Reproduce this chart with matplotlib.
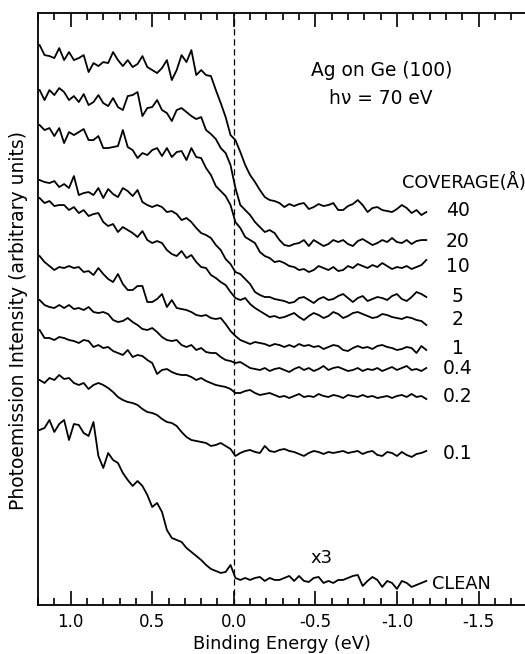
import numpy as np
import matplotlib
matplotlib.use('Agg')
import matplotlib.pyplot as plt
from matplotlib.ticker import MultipleLocator, FuncFormatter

plt.rcParams['font.family'] = ['DejaVu Sans']

# binding energy grid (eV), read every 0.03 eV from the left edge
energy = np.round(1.19 - 0.03 * np.arange(80), 2)

# photoemission intensity (arbitrary units, curves already offset)
cov_40 = [565, 555, 554, 552, 562, 550, 558, 550, 552, 555,
          538, 547, 544, 548, 547, 558, 550, 544, 550, 543,
          546, 554, 543, 540, 537, 542, 550, 530, 540, 555,
          548, 560, 535, 540, 535, 534, 520, 507, 493, 475,
          470, 458, 445, 435, 428, 420, 413, 410, 409, 407,
          403, 406, 404, 406, 407, 401, 403, 406, 404, 405,
          407, 400, 400, 404, 406, 410, 405, 398, 402, 403,
          400, 399, 398, 401, 405, 402, 397, 400, 395, 398]
cov_20 = [520, 510, 520, 515, 522, 518, 510, 514, 508, 516,
          505, 508, 515, 507, 504, 512, 503, 500, 514, 515,
          518, 494, 502, 503, 510, 500, 497, 489, 500, 502,
          498, 494, 491, 493, 480, 476, 471, 462, 457, 445,
          422, 405, 400, 395, 388, 383, 378, 380, 377, 370,
          365, 364, 366, 367, 370, 364, 370, 367, 364, 366,
          370, 368, 370, 366, 364, 369, 371, 368, 365, 367,
          370, 368, 372, 368, 367, 370, 366, 369, 370, 370]
cov_10 = [485, 480, 482, 474, 482, 467, 478, 475, 478, 481,
          470, 470, 474, 462, 462, 463, 464, 480, 463, 460,
          452, 457, 455, 460, 462, 454, 462, 453, 458, 459,
          450, 462, 453, 452, 442, 435, 424, 419, 414, 405,
          388, 382, 373, 370, 367, 358, 354, 352, 348, 349,
          347, 344, 343, 340, 341, 338, 340, 344, 342, 340,
          343, 339, 340, 344, 342, 346, 344, 342, 345, 343,
          347, 344, 341, 343, 342, 344, 341, 343, 345, 350]
cov_5 = [430, 428, 427, 429, 423, 426, 422, 434, 415, 417,
         418, 415, 422, 412, 421, 416, 413, 422, 419, 414,
         420, 408, 405, 403, 405, 403, 398, 399, 396, 390,
         392, 388, 382, 377, 375, 372, 365, 360, 351, 346,
         338, 336, 331, 326, 318, 315, 313, 313, 311, 310,
         309, 307, 308, 312, 313, 310, 307, 311, 313, 310,
         311, 314, 316, 312, 308, 312, 314, 309, 311, 313,
         312, 310, 314, 316, 311, 309, 313, 318, 316, 313]
cov_2 = [412, 407, 409, 404, 405, 405, 400, 403, 397, 400,
         394, 396, 397, 388, 384, 386, 378, 383, 380, 377,
         373, 379, 370, 367, 369, 367, 360, 356, 354, 359,
         352, 355, 348, 343, 342, 335, 332, 328, 325, 318,
         312, 310, 312, 306, 302, 299, 296, 293, 294, 292,
         293, 295, 297, 293, 290, 294, 297, 295, 292, 294,
         298, 296, 292, 294, 297, 298, 296, 294, 292, 293,
         296, 295, 293, 292, 291, 293, 292, 290, 289, 285]
cov_1 = [354, 348, 344, 340, 343, 342, 344, 342, 343, 338,
         339, 335, 342, 336, 331, 328, 336, 326, 320, 320,
         324, 324, 308, 308, 311, 316, 303, 310, 302, 301,
         300, 298, 295, 294, 295, 292, 291, 292, 286, 279,
         274, 270, 268, 266, 268, 267, 266, 264, 266, 265,
         263, 265, 263, 266, 264, 265, 263, 264, 261, 263,
         265, 264, 260, 259, 262, 264, 262, 263, 261, 264,
         265, 263, 262, 260, 261, 263, 262, 257, 264, 260]
cov_04 = [310, 305, 303, 302, 305, 302, 305, 301, 302, 300,
          303, 298, 297, 298, 296, 290, 288, 289, 292, 288,
          285, 281, 280, 282, 278, 273, 270, 269, 270, 265,
          263, 265, 260, 262, 258, 257, 257, 253, 250, 249,
          247, 248, 245, 242, 241, 240, 242, 239, 241, 242,
          240, 238, 241, 243, 240, 242, 239, 241, 244, 240,
          242, 243, 241, 239, 240, 242, 239, 241, 240, 242,
          239, 241, 243, 240, 242, 244, 240, 241, 239, 242]
cov_02 = [280, 272, 272, 270, 273, 272, 270, 269, 267, 270,
          269, 263, 265, 262, 263, 259, 257, 255, 260, 253,
          255, 254, 250, 247, 236, 240, 241, 238, 236, 235,
          235, 233, 230, 232, 229, 227, 225, 224, 223, 221,
          217, 217, 219, 220, 217, 215, 216, 217, 215, 213,
          214, 212, 214, 216, 213, 214, 213, 216, 214, 213,
          215, 214, 212, 215, 214, 213, 215, 213, 214, 212,
          213, 214, 212, 214, 215, 213, 216, 213, 214, 211]
cov_01 = [230, 227, 232, 230, 235, 231, 232, 227, 225, 227,
          221, 225, 227, 225, 222, 218, 213, 210, 208, 207,
          205, 201, 198, 197, 195, 191, 188, 187, 184, 178,
          173, 170, 169, 168, 167, 164, 165, 167, 164, 161,
          154, 157, 159, 160, 158, 157, 164, 159, 158, 160,
          161, 159, 158, 156, 154, 157, 159, 158, 156, 158,
          157, 158, 159, 157, 158, 159, 156, 158, 159, 155,
          154, 158, 157, 154, 158, 155, 153, 156, 157, 159]
clean = [180, 182, 190, 178, 186, 190, 170, 186, 185, 177,
         174, 188, 154, 142, 157, 150, 147, 137, 130, 124,
         129, 124, 115, 103, 107, 98, 80, 72, 70, 68,
         62, 58, 54, 50, 45, 41, 39, 37, 38, 45,
         32, 30, 32, 30, 32, 33, 29, 32, 30, 30,
         32, 34, 29, 34, 29, 28, 32, 33, 27, 29,
         27, 30, 30, 32, 34, 35, 24, 29, 33, 30,
         23, 29, 27, 21, 29, 27, 23, 25, 27, 29]

spectra = [cov_40, cov_20, cov_10, cov_5, cov_2, cov_1, cov_04, cov_02, cov_01, clean]
labels = ['40', '20', '10', '5', '2', '1', '0.4', '0.2', '0.1', 'CLEAN']

fig = plt.figure(figsize=(5.25, 6.54), dpi=100)
ax = fig.add_axes([0.0724, 0.075, 0.9276, 0.905])

for vals, lab in zip(spectra, labels):
    ax.plot(energy, vals, color='black', lw=1.3)
    ylab = np.mean(vals[-8:])
    if lab == 'CLEAN':
        ax.text(-1.215, ylab, lab, fontsize=12.8, ha='left', va='center')
    else:
        ax.text(-1.374, ylab, lab, fontsize=13.5, ha='center', va='center')

ax.axvline(0.0, color='black', lw=0.9, ls=(0, (5, 3)))

ax.text(-0.905, 540, 'Ag on Ge (100)', fontsize=13.4, ha='center', va='center')
ax.text(-0.9, 512, 'h\u03bd = 70 eV', fontsize=13.4, ha='center', va='center')
ax.text(-1.03, 428, 'COVERAGE(\u00c5)', fontsize=12.8, ha='left', va='center')
ax.text(-0.54, 52, 'x3', fontsize=13, ha='center', va='center')

ax.set_xlim(1.20, -1.785)
ax.set_ylim(5, 597)
ax.xaxis.set_major_locator(MultipleLocator(0.5))
ax.xaxis.set_minor_locator(MultipleLocator(0.1))
ax.xaxis.set_major_formatter(FuncFormatter(lambda v, p: f'{v:.1f}'))
ax.tick_params(axis='x', which='both', direction='in', top=True, width=1.2, labelsize=12, pad=6)
ax.tick_params(axis='x', which='major', length=10)
ax.tick_params(axis='x', which='minor', length=5)
ax.set_yticks([])
ax.spines['right'].set_visible(False)
for s in ['left', 'top', 'bottom']:
    ax.spines[s].set_linewidth(1.3)

ax.set_xlabel('Binding Energy (eV)', fontsize=12.8, labelpad=3)
ax.set_ylabel('Photoemission Intensity (arbitrary units)', fontsize=13.5)
ax.yaxis.set_label_coords(-0.02, 0.481)

fig.savefig('out.png', dpi=100)
